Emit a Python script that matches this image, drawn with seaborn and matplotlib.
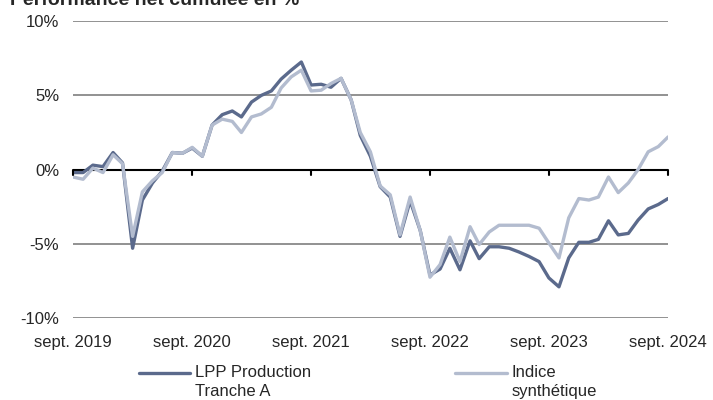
import numpy as np
import pandas as pd
import seaborn as sns
import matplotlib.pyplot as plt
from matplotlib.legend_handler import HandlerLine2D

# monthly cumulative net performance, sept. 2019 -> sept. 2024
months = pd.date_range("2019-09-30", periods=61, freq="ME")

lpp = [
    -0.2, -0.2, 0.3, 0.2, 1.15, 0.45, -5.3, -2.05, -0.9, -0.1,
    1.15, 1.1, 1.45, 0.9, 3.0, 3.7, 3.95, 3.55, 4.55, 5.0,
    5.3, 6.1, 6.7, 7.25, 5.7, 5.75, 5.55, 6.15, 4.7, 2.3,
    0.9, -1.15, -1.85, -4.5, -2.1, -4.1, -7.1, -6.7, -5.3, -6.75,
    -4.8, -6.0, -5.2, -5.2, -5.3, -5.55, -5.85, -6.2, -7.3, -7.9,
    -5.95, -4.9, -4.9, -4.7, -3.45, -4.4, -4.3, -3.4, -2.65, -2.35,
    -1.95,
]
indice = [
    -0.5, -0.65, 0.1, -0.2, 1.0, 0.4, -4.5, -1.5, -0.75, -0.2,
    1.15, 1.1, 1.5, 0.9, 3.0, 3.4, 3.25, 2.5, 3.55, 3.75,
    4.2, 5.5, 6.25, 6.7, 5.3, 5.35, 5.8, 6.15, 4.7, 2.5,
    1.2, -1.1, -1.7, -4.4, -1.85, -4.1, -7.25, -6.4, -4.55, -6.2,
    -3.85, -5.05, -4.2, -3.75, -3.75, -3.75, -3.75, -3.95, -4.95, -5.95,
    -3.25, -1.95, -2.05, -1.85, -0.5, -1.55, -0.9, 0.0, 1.2, 1.55,
    2.2,
]
series_names = ["LPP Production\nTranche A", "Indice\nsynthétique"]
colors = ["#5b6a8c", "#b3bccf"]
tick_years = [2019, 2020, 2021, 2022, 2023, 2024]

df = pd.concat([
    pd.DataFrame({"date": months, "perf": lpp, "serie": series_names[0]}),
    pd.DataFrame({"date": months, "perf": indice, "serie": series_names[1]}),
])


class TopLineHandler(HandlerLine2D):
    # put the legend line level with the first text line
    def create_artists(self, legend, orig_handle, xdescent, ydescent,
                       width, height, fontsize, trans):
        arts = super().create_artists(legend, orig_handle, xdescent, ydescent,
                                      width, height, fontsize, trans)
        for a in arts:
            a.set_ydata([y + 6.8 for y in a.get_ydata()])
        return arts


sns.set_style("white")
plt.rcParams["font.family"] = ["Liberation Sans", "DejaVu Sans"]

fig = plt.figure(figsize=(7.13, 4.0), dpi=100)
ax = fig.add_axes([0.1024, 0.205, 0.8346, 0.742])

sns.lineplot(data=df, x="date", y="perf", hue="serie",
             palette=dict(zip(series_names, colors)), linewidth=2.4,
             ax=ax, legend=True)

ax.set_ylim(-10, 10)
ax.set_xlim(months[0], months[-1])
ax.set_yticks([-10, -5, 0, 5, 10])
ax.set_yticklabels([f"{v}%" for v in [-10, -5, 0, 5, 10]], fontsize=12)

for v in [-10, -5, 5, 10]:
    ax.axhline(v, color="#7f7f7f", lw=1.2, zorder=0)
ax.axhline(0, color="black", lw=1.5, zorder=1)

tick_dates = [pd.Timestamp(f"{y}-09-30") for y in tick_years]
ax.set_xticks(tick_dates)
ax.set_xticklabels([f"sept. {y}" for y in tick_years], fontsize=12)
ax.tick_params(axis="y", length=0, pad=10)
ax.tick_params(axis="x", length=0, pad=12)
# small tick marks on the zero line
for d in tick_dates:
    ax.plot([d, d], [0, -0.35], color="black", lw=1.5, clip_on=False)

for s in ax.spines.values():
    s.set_visible(False)
ax.set_xlabel("")
ax.set_ylabel("")

handles, labels = ax.get_legend_handles_labels()
ax.get_legend().remove()
leg = fig.legend(handles, labels, loc="upper center",
                 bbox_to_anchor=(0.516, 0.113), ncol=2, frameon=False,
                 fontsize=12, handlelength=3.1, columnspacing=8.6,
                 handletextpad=0.3, labelspacing=0.2, borderpad=0.1,
                 handler_map={h: TopLineHandler() for h in handles})
for t in leg.get_texts():
    t.set_linespacing(1.35)

fig.text(0.014, 0.9875, "Performance net cumulée en %", fontsize=14,
         fontweight="bold", va="baseline", ha="left")

fig.savefig("out.png", dpi=100)
